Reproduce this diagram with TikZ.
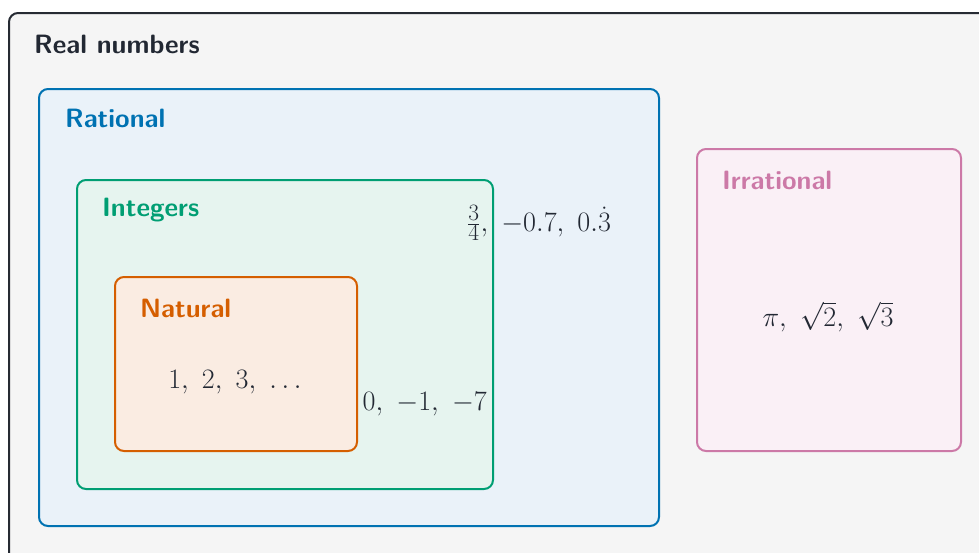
\documentclass[tikz,border=0pt]{standalone}
\usetikzlibrary{positioning}
\definecolor{outerdraw}{HTML}{262B33}
\definecolor{outerfill}{HTML}{F5F5F5}
\definecolor{ratdraw}{HTML}{0072B2}
\definecolor{ratfill}{HTML}{EAF2F9}
\definecolor{intdraw}{HTML}{009E73}
\definecolor{intfill}{HTML}{E6F4EF}
\definecolor{natdraw}{HTML}{D55E00}
\definecolor{natfill}{HTML}{FAECE2}
\definecolor{irrdraw}{HTML}{CC79A7}
\definecolor{irrfill}{HTML}{FAF0F6}
\definecolor{txt}{HTML}{222833}
\newcommand{\elemtext}[1]{\scalebox{1.13}{#1}}
\tikzset{
  setbox/.style={rounded corners=9pt, line width=2pt},
  setlabel/.style={anchor=west, inner sep=0pt, font=\fontsize{26.5}{32}\selectfont\sffamily\bfseries},
  elems/.style={inner sep=0pt, text=txt, font=\fontsize{24.88}{30}\selectfont},
}
\begin{document}
\begin{tikzpicture}[x=1pt,y=-1pt]
\useasboundingbox (0,0) rectangle (979,552);
\begin{scope}
\clip (0,0) rectangle (979,552);
\draw[setbox, draw=outerdraw, fill=outerfill] (9,13) rectangle (1000,580);
\end{scope}
\node[setlabel, text=txt] (lreal) at (34,44) {Real numbers};
\draw[setbox, draw=ratdraw, fill=ratfill] (39,89) rectangle (659,526);
\node[setlabel, text=ratdraw] (lrat) at (65,118) {Rational};
\draw[setbox, draw=intdraw, fill=intfill] (77,180) rectangle (493,489);
\node[setlabel, text=intdraw] (lint) at (102,210) {Integers};
\draw[setbox, draw=natdraw, fill=natfill] (115,277) rectangle (357,451);
\node[setlabel, text=natdraw] (lnat) at (140,308) {Natural};
\draw[setbox, draw=irrdraw, fill=irrfill] (697,149) rectangle (961,451);
\node[setlabel, text=irrdraw] (lirr) at (722,180) {Irrational};
\node[elems] (enat) at (235,382) {\elemtext{$1,\ 2,\ 3,\ \ldots$}};
\node[elems, anchor=east] (eint) at (487,404) {\elemtext{$0,\ -1,\ -7$}};
\node[elems] (erat) at (539,223) {\elemtext{$\frac{3}{4},\ -0.7,\ 0.\dot{3}$}};
\node[elems] (eirr) at (828,317) {\elemtext{$\pi,\ \sqrt{2},\ \sqrt{3}$}};
\end{tikzpicture}
\end{document}
